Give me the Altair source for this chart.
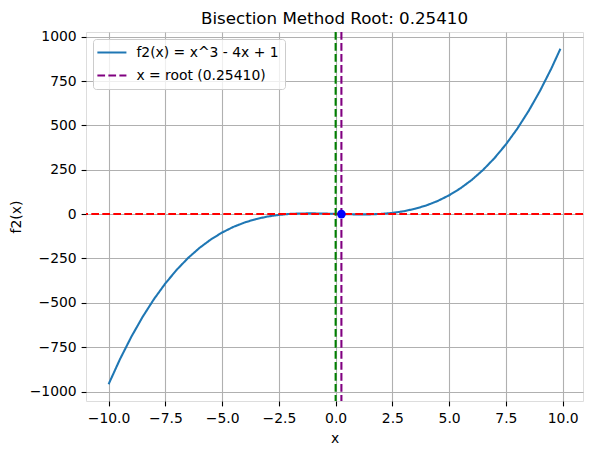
import altair as alt
import pandas as pd

# Curve points (x, f2(x))
x_vals = [-10.0, -9.5, -9.0, -8.5, -8.0, -7.5, -7.0, -6.5, -6.0, -5.5, -5.0,
          -4.5, -4.0, -3.5, -3.0, -2.5, -2.0, -1.5, -1.0, -0.5, 0.0,
          0.5, 1.0, 1.5, 2.0, 2.5, 3.0, 3.5, 4.0, 4.5, 5.0,
          5.5, 6.0, 6.5, 7.0, 7.5, 8.0, 8.5, 9.0, 9.5, 9.9]
y_vals = [-959.0, -818.4, -692.0, -579.1, -479.0, -390.9, -314.0, -247.6, -191.0, -143.4, -104.0,
          -72.1, -47.0, -27.9, -14.0, -4.6, 1.0, 3.6, 4.0, 2.9, 1.0,
          -0.9, -2.0, -1.6, 1.0, 6.6, 16.0, 29.9, 49.0, 74.1, 106.0,
          145.4, 193.0, 249.6, 316.0, 392.9, 481.0, 581.1, 694.0, 820.4, 931.7]
root_x = [0.2541]
root_y = [0.0]
zero_line = [0.0]
series_names = ["f2(x) = x^3 - 4x + 1", "x = root (0.25410)"]
x_ticks = [-10.0, -7.5, -5.0, -2.5, 0.0, 2.5, 5.0, 7.5, 10.0]
y_ticks = [-1000, -750, -500, -250, 0, 250, 500, 750, 1000]
title_text = "Bisection Method Root: 0.25410"

curve_df = pd.DataFrame({"x": x_vals, "y": y_vals, "series": series_names[0]})
root_df = pd.DataFrame({"x": root_x, "y": root_y, "series": [series_names[1]]})
zero_df = pd.DataFrame({"v": zero_line})

FONT = "DejaVu Sans"
DASH = [7.7, 3.3]
LW = 2.08

xscale = alt.Scale(domain=[-10.995, 10.895], nice=False, zero=False)
yscale = alt.Scale(domain=[-1053.5, 1026.2], nice=False, zero=False)

common_axis = dict(grid=True, gridColor="#b0b0b0", gridWidth=1.1, domain=False,
                   tickColor="black", tickSize=4.9, tickWidth=1.1,
                   labelFont=FONT, labelFontSize=13.9, labelColor="black",
                   titleFont=FONT, titleFontSize=13.9, titleFontWeight="normal",
                   titleColor="black", titlePadding=5.6)
xaxis = alt.Axis(values=x_ticks, format=".1f", labelFlush=False, labelPadding=5.6, **common_axis)
yaxis = alt.Axis(values=y_ticks, format="d", labelFlush=False, labelPadding=4.9, **common_axis)

color_scale = alt.Scale(domain=series_names, range=["#1f77b4", "purple"])
dash_scale = alt.Scale(domain=series_names, range=[[1, 0], DASH])
legend = alt.Legend(title=None, orient="top-left", offset=7,
                    symbolType="M-1.52,0H3.32", symbolSize=144,
                    symbolStrokeWidth=LW, labelFont=FONT,
                    labelFontSize=13.9, labelColor="black", labelOffset=22.4,
                    padding=6, rowPadding=8, fillColor="rgba(255,255,255,0.8)",
                    strokeColor="#cccccc", cornerRadius=3)

X = alt.X("x:Q", scale=xscale, axis=xaxis, title="x")
Y = alt.Y("y:Q", scale=yscale, axis=yaxis, title="f2(x)")

curve = alt.Chart(curve_df).mark_line(strokeWidth=LW).encode(
    x=X, y=Y,
    color=alt.Color("series:N", scale=color_scale, legend=legend),
    strokeDash=alt.StrokeDash("series:N", scale=dash_scale, legend=legend),
)
hline = alt.Chart(zero_df).mark_rule(color="red", strokeWidth=LW, strokeDash=DASH).encode(
    y=alt.Y("v:Q", scale=yscale)
)
vline_green = alt.Chart(zero_df).mark_rule(color="green", strokeWidth=LW, strokeDash=DASH).encode(
    x=alt.X("v:Q", scale=xscale)
)
vline_root = alt.Chart(root_df).mark_rule(strokeWidth=LW).encode(
    x=alt.X("x:Q", scale=xscale),
    color=alt.Color("series:N", scale=color_scale, legend=legend),
    strokeDash=alt.StrokeDash("series:N", scale=dash_scale, legend=legend),
)
dot = alt.Chart(root_df).mark_point(filled=True, color="#0000ff", size=75, opacity=1).encode(
    x=alt.X("x:Q", scale=xscale), y=alt.Y("y:Q", scale=yscale)
)

chart = alt.layer(curve, hline, vline_green, vline_root, dot).properties(
    width=497, height=369,
    title=alt.TitleParams(title_text, font=FONT, fontSize=16.7, fontWeight="normal",
                          color="black", anchor="middle", offset=2),
    autosize=alt.AutoSizeParams(type="none"),
    padding={"left": 78, "top": 24, "right": 1, "bottom": 46},
).configure_view(stroke="black", strokeWidth=1.1).configure(background="white")

chart.save("out.html", embed_options={"renderer": "svg", "actions": False})
